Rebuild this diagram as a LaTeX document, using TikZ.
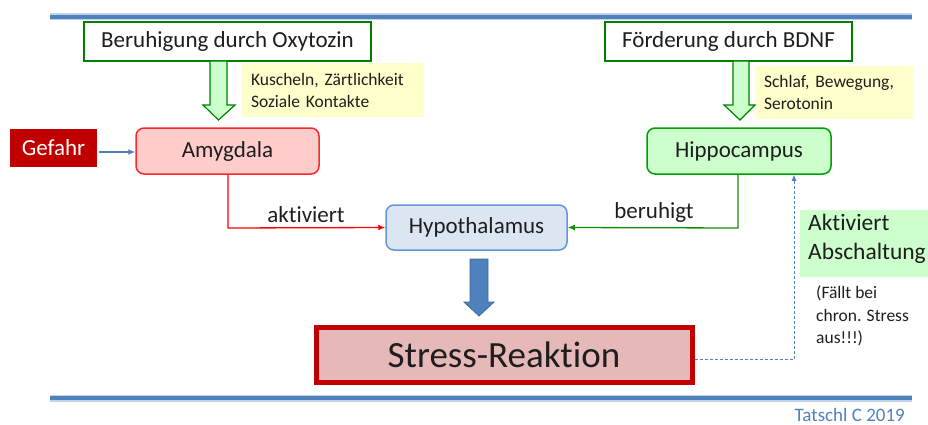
\documentclass[tikz,border=0pt]{standalone}
\usepackage{fontspec}
\setmainfont{Carlito}[Ligatures={NoCommon,NoRequired,NoContextual}]
\usetikzlibrary{arrows.meta}
\definecolor{lineblue}{RGB}{79,129,189}
\definecolor{boxgreen}{RGB}{0,128,0}
\definecolor{lightgreen}{RGB}{204,255,204}
\definecolor{noteyellow}{RGB}{255,255,204}
\definecolor{darkred}{RGB}{192,0,0}
\definecolor{amyfill}{RGB}{255,204,204}
\definecolor{amyline}{RGB}{255,40,40}
\definecolor{hipline}{RGB}{0,160,0}
\definecolor{hypfill}{RGB}{220,230,242}
\definecolor{hypline}{RGB}{100,150,220}
\definecolor{stressfill}{RGB}{230,184,183}
\definecolor{txt}{RGB}{30,30,30}
\begin{document}
\begin{tikzpicture}[x=1pt,y=-1pt,
  every node/.style={inner sep=0pt, text=txt},
  mainfont/.style={font=\fontsize{23}{28}\selectfont},
  topbox/.style={draw=boxgreen, line width=2.5pt, fill=white, mainfont},
  roundbox/.style={rounded corners=8pt, line width=1.5pt, mainfont},
  note/.style={fill=noteyellow, align=left, font=\fontsize{17.5}{22}\selectfont, text width=#1},
  blockarrow/.style={draw=boxgreen, line width=1.2pt, fill=lightgreen},
  conn/.style={line width=1.3pt, -{Latex[length=7pt,width=6pt]}}
]
\useasboundingbox (0,0) rectangle (928,425);
% horizontal rules
\foreach \yy in {17,398}{
  \draw[lineblue!35, line width=7pt] (50,\yy) -- (912,\yy);
  \draw[lineblue, line width=3.5pt] (50,\yy) -- (912,\yy);
}
% top boxes
\node[topbox, minimum width=287pt, minimum height=39pt] (oxy) at (227.5,41.5) {Beruhigung durch Oxytozin};
\node[topbox, minimum width=247pt, minimum height=39pt] (bdnf) at (728.5,41.5) {Förderung durch BDNF};
% notes
\node[note=164pt, minimum height=54pt, inner xsep=9pt] (n1) at (333,90) {Kuscheln, Zärtlichkeit\\Soziale Kontakte};
\node[note=140pt, minimum height=53pt, inner xsep=9pt] (n2) at (834,92.5) {Schlaf, Bewegung,\\Serotonin};
% green block arrows
\draw[blockarrow] (210,61) -- (227,61) -- (227,105) -- (235,105) -- (218.5,120) -- (203,105) -- (210,105) -- cycle;
\draw[blockarrow] (733,61) -- (749,61) -- (749,105) -- (755,105) -- (740,120) -- (724,105) -- (733,105) -- cycle;
% main nodes
\node[fill=darkred, minimum width=87pt, minimum height=38pt, mainfont, text=white] (gef) at (53.5,148) {Gefahr};
\node[roundbox, draw=amyline, fill=amyfill, minimum width=183pt, minimum height=46pt] (amy) at (227.5,151) {Amygdala};
\node[roundbox, draw=hipline, fill=lightgreen, minimum width=184pt, minimum height=46pt] (hip) at (739,151) {Hippocampus};
\node[roundbox, draw=hypline, fill=hypfill, minimum width=181pt, minimum height=45pt] (hyp) at (476.5,227.5) {Hypothalamus};
\node[draw=darkred, line width=5pt, fill=stressfill, minimum width=376pt, minimum height=55pt, font=\fontsize{37}{44}\selectfont] (str) at (504,354.5) {Stress-Reaktion};
% green side note
\node[fill=lightgreen, minimum width=128pt, minimum height=67pt, anchor=north west] (abs) at (800,210) {};
\node[anchor=north west, align=left, font=\fontsize{23.5}{29}\selectfont] (abst) at (808,213.5) {Aktiviert\\Abschaltung};
\node[anchor=north west, align=left, font=\fontsize{17.5}{22.5}\selectfont] (fall) at (816,286) {(Fällt bei\\chron. Stress\\aus!!!)};
% connectors
\draw[lineblue, line width=1.3pt, -{Latex[length=7pt,width=6pt]}] (gef.east) ++(2,4) coordinate (g1) -- (amy.west |- g1);
\coordinate (c1) at (228,228);
\draw[conn, red] (amy.south -| c1) -- (c1) -- (hyp.west);
\node[mainfont, anchor=south] (akt) at (306,223) {aktiviert};
\coordinate (c2) at (738,228);
\draw[conn, boxgreen!90!lime] (hip.south -| c2) -- (c2) -- (hyp.east);
\node[mainfont, anchor=south] (ber) at (654,223) {beruhigt};
% blue block arrow
\draw[fill=lineblue, draw=lineblue!80!black, line width=0.8pt] (470,259) -- (488,259) -- (488,302) -- (494,302) -- (479,316) -- (464,302) -- (470,302) -- cycle;
% dashed feedback
\coordinate (c3) at (794,359);
\draw[lineblue, line width=0.9pt, dash pattern=on 3pt off 2pt, -{Latex[length=6pt,width=5pt]}] (str.east |- c3) -- (c3) -- (hip.south -| c3);
% credit
\node[text=lineblue, font=\fontsize{19}{22}\selectfont, anchor=east] (cr) at (905,414.5) {Tatschl C 2019};
\end{tikzpicture}
\end{document}
